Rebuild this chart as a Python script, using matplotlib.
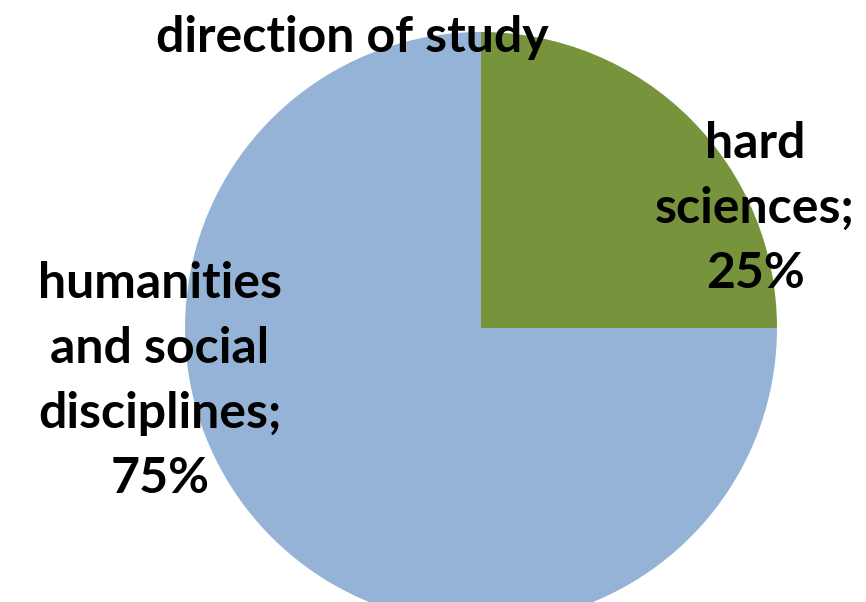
import matplotlib.pyplot as plt

plt.rcParams['font.family'] = ['Lato', 'DejaVu Sans']

# data
labels = ['hard\nsciences;\n25%', 'humanities\nand social\ndisciplines;\n75%']
values = [25, 75]
colors = ['#77933C', '#95B3D7']

fig = plt.figure(figsize=(8.66, 6.02), dpi=100)
ax = fig.add_axes([0, 0, 1, 1])

ax.pie(values, colors=colors, startangle=90, counterclock=False,
       center=(481, 274), radius=296, frame=True)
ax.set_xlim(0, 866)
ax.set_ylim(0, 602)
ax.set_aspect('equal')
ax.axis('off')

# label blocks: x centre, first baseline (pixels from top), line step
for lab, x0, y0 in [(labels[0], 755, 158), (labels[1], 160, 298)]:
    for i, line in enumerate(lab.split('\n')):
        ax.text(x0, 602 - (y0 + 65 * i), line, ha='center', va='baseline',
                fontsize=36, fontweight='bold')

ax.text(352, 602 - 52, 'direction of study', ha='center', va='baseline',
        fontsize=36, fontweight='bold')

fig.savefig('out.png', dpi=100)
